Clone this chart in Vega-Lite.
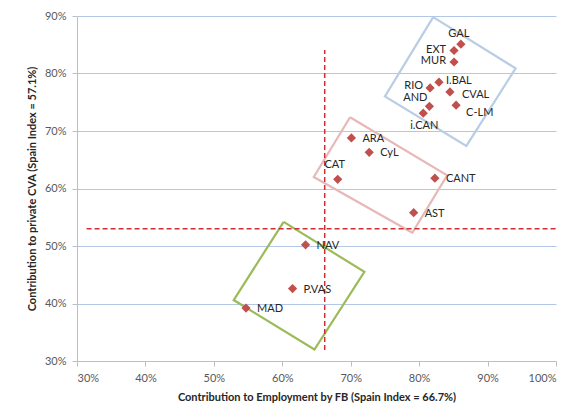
{
  "$schema": "https://vega.github.io/schema/vega-lite/v6.json",
  "width": 479,
  "height": 345,
  "autosize": {"type": "none"},
  "padding": {"left": 77, "top": 16, "right": 16, "bottom": 53},
  "background": "white",
  "config": {"view": {"stroke": null}, "font": "Lato"},
  "datasets": {
    "regions": [
      {"name": "GAL", "x": 86.1, "y": 85.1},
      {"name": "EXT", "x": 85.1, "y": 84.0},
      {"name": "MUR", "x": 85.1, "y": 82.0},
      {"name": "I.BAL", "x": 82.9, "y": 78.5},
      {"name": "RIO", "x": 81.6, "y": 77.5},
      {"name": "CVAL", "x": 84.5, "y": 76.8},
      {"name": "AND", "x": 81.5, "y": 74.3},
      {"name": "i.CAN", "x": 80.6, "y": 73.1},
      {"name": "C-LM", "x": 85.4, "y": 74.5},
      {"name": "ARA", "x": 70.1, "y": 68.8},
      {"name": "CyL", "x": 72.7, "y": 66.3},
      {"name": "CAT", "x": 68.1, "y": 61.6},
      {"name": "CANT", "x": 82.3, "y": 61.8},
      {"name": "AST", "x": 79.2, "y": 55.8},
      {"name": "NAV", "x": 63.4, "y": 50.2},
      {"name": "P.VAS", "x": 61.5, "y": 42.6},
      {"name": "MAD", "x": 54.7, "y": 39.2}
    ],
    "shapes": [
      {"shape": "blue", "i": 0, "x": 82.05, "y": 89.8},
      {"shape": "blue", "i": 1, "x": 94.1, "y": 80.9},
      {"shape": "blue", "i": 2, "x": 86.9, "y": 67.4},
      {"shape": "blue", "i": 3, "x": 75.0, "y": 76.0},
      {"shape": "blue", "i": 4, "x": 82.05, "y": 89.8},
      {"shape": "pink", "i": 0, "x": 69.9, "y": 72.4},
      {"shape": "pink", "i": 1, "x": 84.1, "y": 62.3},
      {"shape": "pink", "i": 2, "x": 79.0, "y": 52.3},
      {"shape": "pink", "i": 3, "x": 64.6, "y": 62.0},
      {"shape": "pink", "i": 4, "x": 69.9, "y": 72.4},
      {"shape": "green", "i": 0, "x": 60.2, "y": 54.2},
      {"shape": "green", "i": 1, "x": 72.0, "y": 45.5},
      {"shape": "green", "i": 2, "x": 64.7, "y": 32.0},
      {"shape": "green", "i": 3, "x": 52.9, "y": 40.6},
      {"shape": "green", "i": 4, "x": 60.2, "y": 54.2}
    ]
  },
  "layer": [
    {
      "data": {"name": "shapes"},
      "mark": {"type": "line", "strokeWidth": 2.2},
      "encoding": {
        "x": {
          "field": "x", "type": "quantitative",
          "scale": {"domain": [30, 100], "nice": false, "zero": false},
          "axis": {
            "title": "Contribution  to Employment by FB (Spain Index = 66.7%)",
            "values": [30, 40, 50, 60, 70, 80, 90, 100],
            "labelExpr": "datum.value + '%'",
            "grid": false,
            "domainColor": "#BFBFBF",
            "tickColor": "#BFBFBF",
            "tickSize": 5,
            "labelPadding": 6,
            "labelFontSize": 11,
            "labelColor": "#595959",
            "titleFontSize": 11,
            "titleFontWeight": "bold",
            "titleColor": "#262626",
            "titlePadding": 8
          }
        },
        "y": {
          "field": "y", "type": "quantitative",
          "scale": {"domain": [30, 90], "nice": false, "zero": false},
          "axis": {
            "title": "Contribution to private CVA (Spain Index = 57.1%)",
            "values": [30, 40, 50, 60, 70, 80, 90],
            "labelExpr": "datum.value + '%'",
            "grid": true,
            "gridColor": "#B4C7E7",
            "gridWidth": 1,
            "domainColor": "#BFBFBF",
            "tickColor": "#BFBFBF",
            "tickSize": 5,
            "labelPadding": 6,
            "labelFontSize": 11,
            "labelColor": "#595959",
            "titleFontSize": 11,
            "titleFontWeight": "bold",
            "titleColor": "#262626",
            "titlePadding": 7
          }
        },
        "order": {"field": "i", "type": "quantitative"},
        "detail": {"field": "shape"},
        "color": {
          "field": "shape", "type": "nominal",
          "scale": {"domain": ["blue", "pink", "green"], "range": ["#B9CDE5", "#E6B9B8", "#9BBB59"]},
          "legend": null
        }
      }
    },
    {
      "data": {"values": [{"x": 66.2, "y": 31.9, "y2": 84.1}]},
      "mark": {"type": "rule", "color": "#D42E35", "strokeWidth": 1.5, "strokeDash": [5, 3]},
      "encoding": {
        "x": {"field": "x", "type": "quantitative"},
        "y": {"field": "y", "type": "quantitative"},
        "y2": {"field": "y2"}
      }
    },
    {
      "data": {"values": [{"x": 31.4, "x2": 100, "y": 53.0}]},
      "mark": {"type": "rule", "color": "#D42E35", "strokeWidth": 1.5, "strokeDash": [5, 3]},
      "encoding": {
        "x": {"field": "x", "type": "quantitative"},
        "x2": {"field": "x2"},
        "y": {"field": "y", "type": "quantitative"}
      }
    },
    {
      "data": {"name": "regions"},
      "mark": {"type": "point", "shape": "diamond", "filled": true, "size": 85, "color": "#C0504D", "opacity": 1},
      "encoding": {
        "x": {"field": "x", "type": "quantitative"},
        "y": {"field": "y", "type": "quantitative"}
      }
    },
    {
      "data": {"name": "regions"},
      "transform": [{"filter": {"field": "name", "oneOf": ["ARA", "CyL", "CANT", "AST", "NAV", "P.VAS", "MAD"]}}],
      "mark": {"type": "text", "align": "left", "baseline": "middle", "dx": 11, "dy": 1, "fontSize": 11, "color": "#262626"},
      "encoding": {
        "x": {"field": "x", "type": "quantitative"},
        "y": {"field": "y", "type": "quantitative"},
        "text": {"field": "name"}
      }
    },
    {
      "data": {"name": "regions"},
      "transform": [{"filter": {"field": "name", "oneOf": ["I.BAL"]}}],
      "mark": {"type": "text", "align": "left", "baseline": "middle", "dx": 7, "dy": -1, "fontSize": 11, "color": "#262626"},
      "encoding": {
        "x": {"field": "x", "type": "quantitative"},
        "y": {"field": "y", "type": "quantitative"},
        "text": {"field": "name"}
      }
    },
    {
      "data": {"name": "regions"},
      "transform": [{"filter": {"field": "name", "oneOf": ["CVAL"]}}],
      "mark": {"type": "text", "align": "left", "baseline": "middle", "dx": 12, "dy": 3, "fontSize": 11, "color": "#262626"},
      "encoding": {
        "x": {"field": "x", "type": "quantitative"},
        "y": {"field": "y", "type": "quantitative"},
        "text": {"field": "name"}
      }
    },
    {
      "data": {"name": "regions"},
      "transform": [{"filter": {"field": "name", "oneOf": ["C-LM"]}}],
      "mark": {"type": "text", "align": "left", "baseline": "middle", "dx": 10, "dy": 8, "fontSize": 11, "color": "#262626"},
      "encoding": {
        "x": {"field": "x", "type": "quantitative"},
        "y": {"field": "y", "type": "quantitative"},
        "text": {"field": "name"}
      }
    },
    {
      "data": {"name": "regions"},
      "transform": [{"filter": {"field": "name", "oneOf": ["EXT", "MUR"]}}],
      "mark": {"type": "text", "align": "right", "baseline": "middle", "dx": -8, "dy": -1, "fontSize": 11, "color": "#262626"},
      "encoding": {
        "x": {"field": "x", "type": "quantitative"},
        "y": {"field": "y", "type": "quantitative"},
        "text": {"field": "name"}
      }
    },
    {
      "data": {"name": "regions"},
      "transform": [{"filter": {"field": "name", "oneOf": ["RIO"]}}],
      "mark": {"type": "text", "align": "right", "baseline": "middle", "dx": -7, "dy": -2, "fontSize": 11, "color": "#262626"},
      "encoding": {
        "x": {"field": "x", "type": "quantitative"},
        "y": {"field": "y", "type": "quantitative"},
        "text": {"field": "name"}
      }
    },
    {
      "data": {"name": "regions"},
      "transform": [{"filter": {"field": "name", "oneOf": ["AND"]}}],
      "mark": {"type": "text", "align": "right", "baseline": "middle", "dx": -2, "dy": -8, "fontSize": 11, "color": "#262626"},
      "encoding": {
        "x": {"field": "x", "type": "quantitative"},
        "y": {"field": "y", "type": "quantitative"},
        "text": {"field": "name"}
      }
    },
    {
      "data": {"name": "regions"},
      "transform": [{"filter": {"field": "name", "oneOf": ["GAL"]}}],
      "mark": {"type": "text", "align": "center", "baseline": "middle", "dx": -2, "dy": -10, "fontSize": 11, "color": "#262626"},
      "encoding": {
        "x": {"field": "x", "type": "quantitative"},
        "y": {"field": "y", "type": "quantitative"},
        "text": {"field": "name"}
      }
    },
    {
      "data": {"name": "regions"},
      "transform": [{"filter": {"field": "name", "oneOf": ["CAT"]}}],
      "mark": {"type": "text", "align": "center", "baseline": "middle", "dx": -3, "dy": -14, "fontSize": 11, "color": "#262626"},
      "encoding": {
        "x": {"field": "x", "type": "quantitative"},
        "y": {"field": "y", "type": "quantitative"},
        "text": {"field": "name"}
      }
    },
    {
      "data": {"name": "regions"},
      "transform": [{"filter": {"field": "name", "oneOf": ["i.CAN"]}}],
      "mark": {"type": "text", "align": "center", "baseline": "middle", "dx": 1, "dy": 13, "fontSize": 11, "color": "#262626"},
      "encoding": {
        "x": {"field": "x", "type": "quantitative"},
        "y": {"field": "y", "type": "quantitative"},
        "text": {"field": "name"}
      }
    }
  ]
}
